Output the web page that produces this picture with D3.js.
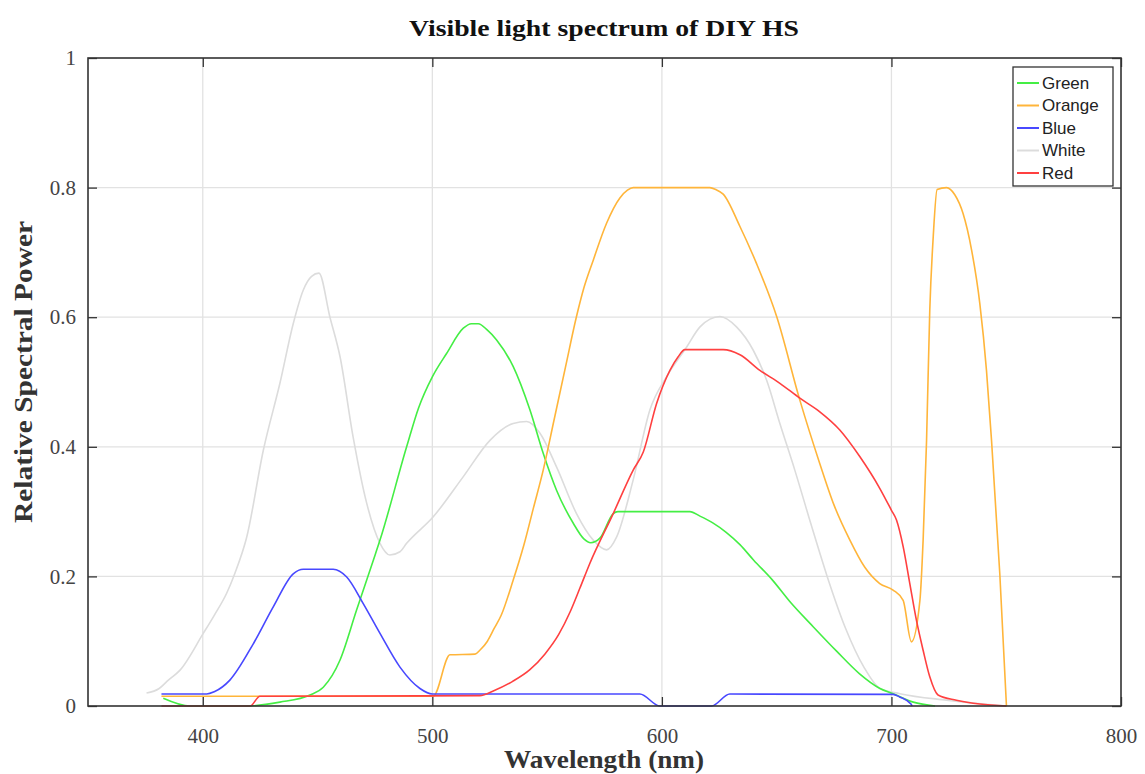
<!DOCTYPE html>
<html>
<head>
<meta charset="utf-8">
<script src="https://cdn.jsdelivr.net/npm/d3@7"></script>
<style>
  body { margin: 0; background: #fff; }
  svg { display: block; }
</style>
</head>
<body>
<svg id="chart" width="1145" height="774"></svg>
<script>
// wavelength (nm), relative spectral power
const green = [
  [382.8, 0.012], [394.4, 0], [419, 0], [433.6, 0.006], [446.7, 0.017], [452.5, 0.029],
  [459.8, 0.071], [467, 0.148], [474.3, 0.225], [477.2, 0.256], [488.8, 0.4], [494, 0.46],
  [500, 0.508], [506.2, 0.544], [513.5, 0.583], [517, 0.59], [520, 0.59], [524, 0.58],
  [528, 0.565], [535.2, 0.524], [542.5, 0.457], [548.3, 0.39], [554.1, 0.333], [561.4, 0.282],
  [566, 0.258], [569, 0.252], [573, 0.259], [578.8, 0.297], [580.8, 0.3], [612.2, 0.3],
  [616.6, 0.293], [622, 0.283], [628, 0.268], [634, 0.249], [640, 0.225], [648, 0.195],
  [656, 0.16], [666, 0.122], [676, 0.085], [686, 0.05], [695, 0.027], [700.7, 0.019],
  [709.5, 0.006], [719, 0]
]
const orange = [
  [382, 0.015], [500.4, 0.015], [507.7, 0.079], [518.6, 0.08], [520.7, 0.086], [524, 0.1],
  [527, 0.12], [530, 0.14], [535.2, 0.194], [540, 0.25], [544, 0.305], [548.3, 0.364],
  [553, 0.441], [558, 0.523], [562.8, 0.601], [566, 0.645], [570.1, 0.688], [575.9, 0.745],
  [581.7, 0.784], [585, 0.796], [587.5, 0.8], [620.9, 0.8], [623.5, 0.797], [626.7, 0.79],
  [634, 0.74], [641.2, 0.683], [650, 0.601], [660.1, 0.472], [668.8, 0.374], [675, 0.31],
  [681.9, 0.256], [688.4, 0.214], [694.9, 0.189], [700.7, 0.179], [705.1, 0.163], [708.7, 0.099],
  [712.4, 0.163], [713.8, 0.256], [715.3, 0.41], [716.7, 0.611], [718.2, 0.724], [719.9, 0.797],
  [724, 0.8], [727.6, 0.789], [731.2, 0.76], [734.9, 0.704], [738.5, 0.621], [741.4, 0.518],
  [743.6, 0.41], [747.2, 0.204], [750.1, 0]
]
const blue = [
  [382, 0.0185], [401.7, 0.0185], [405, 0.022], [411.8, 0.04], [422, 0.096], [430.7, 0.153],
  [439.4, 0.204], [443.8, 0.211], [456.8, 0.211], [462.7, 0.199], [469.9, 0.158], [477.2, 0.112],
  [485.9, 0.06], [494.6, 0.027], [500, 0.0185], [590.4, 0.0185], [599.1, 0], [621.6, 0],
  [629.6, 0.0185], [700.7, 0.018], [703.6, 0.014], [708.5, 0.003], [709, 0]
]
const white = [
  [375.5, 0.02], [381, 0.027], [385, 0.04], [390, 0.055], [400.2, 0.112], [405, 0.14],
  [410.4, 0.174], [414, 0.205], [419.1, 0.26], [426.4, 0.395], [433.6, 0.498], [439.4, 0.59],
  [443.8, 0.642], [447.4, 0.663], [450.6, 0.668], [455.4, 0.6], [459.8, 0.539], [465.5, 0.415],
  [471.4, 0.313], [477.2, 0.251], [481.5, 0.233], [485.9, 0.238], [488.8, 0.251], [500.4, 0.292],
  [513.5, 0.354], [525.1, 0.41], [535.2, 0.436], [541.1, 0.439], [546.9, 0.421], [554.1, 0.369],
  [562.8, 0.297], [570.1, 0.256], [575.9, 0.241], [580.3, 0.261], [587.5, 0.349], [594.8, 0.457],
  [602, 0.508], [610.8, 0.554], [616.6, 0.585], [625.3, 0.601], [632.5, 0.585], [639.8, 0.549],
  [645.6, 0.503], [651.4, 0.436], [657.9, 0.364], [665, 0.28], [672, 0.2], [680, 0.12],
  [688, 0.06], [695, 0.027], [703.7, 0.019], [724, 0.009], [740, 0.003], [750, 0]
]
const red = [
  [382, 0], [420.6, 0], [424.9, 0.015], [520.7, 0.016], [527, 0.024], [535, 0.038],
  [542.5, 0.056], [549, 0.08], [555, 0.11], [560, 0.145], [564.3, 0.182], [568.6, 0.22],
  [578.8, 0.297], [587.5, 0.364], [591.9, 0.392], [597.7, 0.467], [603.5, 0.518], [607.1, 0.539],
  [610, 0.55], [626.7, 0.55], [634, 0.542], [642.7, 0.518], [651.4, 0.498], [660.1, 0.475],
  [668.8, 0.454], [677.5, 0.426], [686.2, 0.385], [694.9, 0.336], [700, 0.302], [702.2, 0.287],
  [705.1, 0.246], [708, 0.189], [710.9, 0.132], [713.8, 0.086], [716.7, 0.045], [720.3, 0.017],
  [728.3, 0.009], [738.5, 0.003], [750.1, 0]
]

const xTicks = [400, 500, 600, 700, 800]
const yTicks = [0, 0.2, 0.4, 0.6, 0.8, 1]

// legend order and draw order differ
const legendNames = ['Green', 'Orange', 'Blue', 'White', 'Red']
const drawOrder = ['White', 'Green', 'Orange', 'Blue', 'Red']
const seriesData = { Green: green, Orange: orange, Blue: blue, White: white, Red: red }
const color = { Green: '#44ee44', Orange: '#ffb53a', Blue: '#4848ff', White: '#dcdcdc', Red: '#ff4040' }

const SVG = d3.select('#chart')
const Margin = { top: 58, bottom: 68, left: 88, right: 24 }
const Width = 1145
const Height = 774
const innerWidth = Width - Margin.left - Margin.right
const innerHeight = Height - Margin.top - Margin.bottom

const xscale = d3.scaleLinear().domain([350, 800]).range([0, innerWidth])
const yscale = d3.scaleLinear().domain([0, 1]).range([innerHeight, 0])

const g = SVG.append('g').attr('transform', `translate(${Margin.left}, ${Margin.top})`)

// grid
g.append('g')
  .selectAll('line')
  .data(xTicks.slice(0, -1))
  .join('line')
  .attr('x1', d => xscale(d)).attr('x2', d => xscale(d))
  .attr('y1', 0).attr('y2', innerHeight)
  .attr('stroke', '#e2e2e2').attr('stroke-width', 1.3)

g.append('g')
  .selectAll('line')
  .data(yTicks.slice(1, -1))
  .join('line')
  .attr('x1', 0).attr('x2', innerWidth)
  .attr('y1', d => yscale(d)).attr('y2', d => yscale(d))
  .attr('stroke', '#e2e2e2').attr('stroke-width', 1.3)

// curves
const line = d3.line()
  .x(d => xscale(d[0]))
  .y(d => yscale(d[1]))
  .curve(d3.curveMonotoneX)

for (const name of drawOrder) {
  g.append('path')
    .datum(seriesData[name])
    .attr('d', line)
    .attr('fill', 'none')
    .attr('stroke', color[name])
    .attr('stroke-width', 1.6)
    .attr('stroke-linejoin', 'round')
}

// axes, ticks pointing inwards
const serif = 'Liberation Serif, serif'
const bottom = d3.axisBottom(xscale).tickValues(xTicks).tickSizeInner(-9).tickSizeOuter(0).tickPadding(22)
const left = d3.axisLeft(yscale).tickValues(yTicks).tickSizeInner(-9).tickSizeOuter(0).tickPadding(12).tickFormat(d3.format('~g'))
const upper = d3.axisTop(xscale).tickValues(xTicks).tickSizeInner(-9).tickSizeOuter(0)
const right = d3.axisRight(yscale).tickValues(yTicks).tickSizeInner(-9).tickSizeOuter(0)

const axes = [
  g.append('g').attr('transform', `translate(0, ${innerHeight})`).call(bottom),
  g.append('g').call(left),
  g.append('g').call(upper),
  g.append('g').attr('transform', `translate(${innerWidth}, 0)`).call(right)
]
axes.forEach(a => {
  a.attr('font-family', serif).attr('font-size', 21)
  a.select('.domain').remove()
  a.selectAll('line').attr('stroke', '#333').attr('stroke-width', 1.3)
  a.selectAll('text').attr('fill', '#444')
})
// top and right axes carry only ticks
axes[2].selectAll('text').remove()
axes[3].selectAll('text').remove()

// frame
g.append('rect')
  .attr('width', innerWidth).attr('height', innerHeight)
  .attr('fill', 'none').attr('stroke', '#333').attr('stroke-width', 1.6)

// title and axis labels
SVG.append('text')
  .text('Visible light spectrum of DIY HS')
  .attr('x', 604).attr('y', 36)
  .attr('textLength', 390).attr('lengthAdjust', 'spacingAndGlyphs')
  .attr('text-anchor', 'middle')
  .attr('font-family', serif).attr('font-weight', 700).attr('font-size', 24)
  .attr('fill', '#111')

SVG.append('text')
  .text('Wavelength (nm)')
  .attr('x', 604).attr('y', 768)
  .attr('textLength', 200).attr('lengthAdjust', 'spacingAndGlyphs')
  .attr('text-anchor', 'middle')
  .attr('font-family', serif).attr('font-weight', 700).attr('font-size', 25)
  .attr('fill', '#333')

SVG.append('text')
  .text('Relative Spectral Power')
  .attr('transform', 'translate(32, 372) rotate(-90)')
  .attr('textLength', 302).attr('lengthAdjust', 'spacingAndGlyphs')
  .attr('text-anchor', 'middle')
  .attr('font-family', serif).attr('font-weight', 700).attr('font-size', 25)
  .attr('fill', '#333')

// legend
const legend = SVG.append('g').attr('transform', 'translate(1013, 67)')
legend.append('rect')
  .attr('width', 100).attr('height', 119)
  .attr('fill', '#fff').attr('stroke', '#333').attr('stroke-width', 1.3)

legendNames.forEach((name, i) => {
  const y = 16 + i * 22.5
  legend.append('line')
    .attr('x1', 4).attr('x2', 26).attr('y1', y).attr('y2', y)
    .attr('stroke', color[name]).attr('stroke-width', 2)
  legend.append('text')
    .text(name)
    .attr('x', 29).attr('y', y)
    .attr('dy', '0.35em')
    .attr('font-family', 'Liberation Sans, Arial, sans-serif').attr('font-size', 17)
    .attr('fill', '#222')
})
</script>
</body>
</html>
